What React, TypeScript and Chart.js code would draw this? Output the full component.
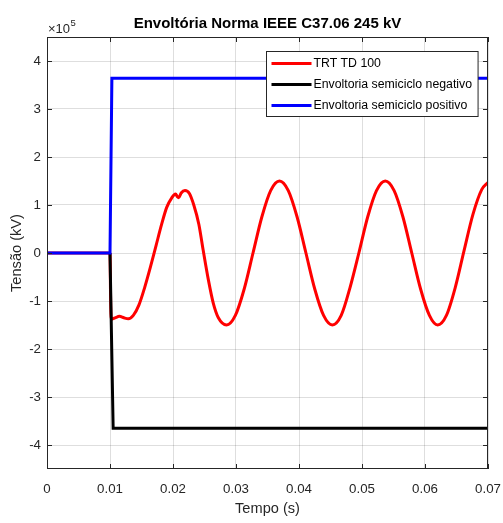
import React, { useEffect, useRef } from "react";
import { Chart, registerables } from "chart.js";

Chart.register(...registerables);

const SCALE = 1e5;

const TITLE = "Envoltória Norma IEEE C37.06 245 kV";
const X_LABEL = "Tempo (s)";
const Y_LABEL = "Tensão (kV)";
const LEGEND_LABELS = ["TRT TD 100", "Envoltoria semiciclo negativo", "Envoltoria semiciclo positivo"];

// Red: TRT TD 100 (values in units of 1e5)
const redT = [
  0, 0.01, 0.0101, 0.0102, 0.0108, 0.0115, 0.0122, 0.0129, 0.0137, 0.0146,
  0.0155, 0.0164, 0.0173, 0.0182, 0.019, 0.0198, 0.0204, 0.0207, 0.0209, 0.0213,
  0.0219, 0.0226, 0.0233, 0.0241, 0.0248, 0.0256, 0.0264, 0.0272, 0.0285, 0.0299,
  0.0313, 0.0327, 0.0341, 0.0355, 0.0369, 0.0383, 0.0397, 0.0411, 0.0425, 0.0439,
  0.0453, 0.0467, 0.0481, 0.0495, 0.0509, 0.0523, 0.0537, 0.0551, 0.0565, 0.0579,
  0.0593, 0.0607, 0.062, 0.0634, 0.0648, 0.0662, 0.0676, 0.069, 0.07,
];
const redV = [
  0, 0, -1.0, -1.38, -1.35, -1.32, -1.35, -1.37, -1.3, -1.08,
  -0.72, -0.3, 0.15, 0.6, 0.95, 1.15, 1.23, 1.17, 1.15, 1.25,
  1.3, 1.24, 1.0, 0.6, 0.05, -0.55, -1.05, -1.35, -1.5, -1.3,
  -0.75, 0.0, 0.75, 1.3, 1.5, 1.3, 0.75, 0.0, -0.75, -1.3,
  -1.5, -1.3, -0.72, 0.0, 0.75, 1.3, 1.5, 1.3, 0.75, 0.0,
  -0.75, -1.3, -1.5, -1.3, -0.72, 0.05, 0.8, 1.32, 1.47,
];

// Black: negative envelope
const negT = [0.01, 0.0105, 0.07];
const negV = [0, -3.65, -3.65];

// Blue: positive envelope
const posT = [0, 0.01, 0.0103, 0.07];
const posV = [0, 0, 3.64, 3.64];

const X_MIN = 0;
const X_MAX = 0.07;
const X_STEP = 0.01;
const Y_MIN = -4.5;
const Y_MAX = 4.5;
const Y_STEP = 1;

const FONT = '"Liberation Sans", Arial, Helvetica, sans-serif';

const toPts = (t: number[], v: number[]) => t.map((x, i) => ({ x, y: v[i] * SCALE }));

const overlay = {
  id: "overlay",
  afterDatasetsDraw(chart: any) {
    const { ctx, chartArea, scales } = chart;
    const { left, right, top, bottom } = chartArea;
    const xs = scales.x;
    const ys = scales.y;
    ctx.save();
    ctx.strokeStyle = "#262626";
    ctx.lineWidth = 1;
    // inner ticks
    ctx.beginPath();
    xs.ticks.forEach((t: any) => {
      const px = Math.round(xs.getPixelForValue(t.value)) + 0.5;
      ctx.moveTo(px, bottom);
      ctx.lineTo(px, bottom - 5);
      ctx.moveTo(px, top);
      ctx.lineTo(px, top + 5);
    });
    ys.ticks.forEach((t: any) => {
      const py = Math.round(ys.getPixelForValue(t.value)) + 0.5;
      ctx.moveTo(left, py);
      ctx.lineTo(left + 5, py);
      ctx.moveTo(right, py);
      ctx.lineTo(right - 5, py);
    });
    ctx.stroke();
    // box
    ctx.strokeRect(Math.round(left) + 0.5, Math.round(top) + 0.5, Math.round(right - left) - 1, Math.round(bottom - top) - 1);

    // title
    ctx.fillStyle = "#000";
    ctx.font = `bold 15px ${FONT}`;
    ctx.textAlign = "center";
    ctx.textBaseline = "middle";
    ctx.fillText(TITLE, (left + right) / 2, 24);

    // exponent
    ctx.fillStyle = "#262626";
    ctx.textAlign = "left";
    ctx.font = `13px ${FONT}`;
    ctx.fillText("×10", left + 1, 29);
    const w = ctx.measureText("×10").width;
    ctx.font = `9.5px ${FONT}`;
    ctx.fillText("5", left + 1 + w + 0.5, 23);

    // legend
    ctx.font = `12.3px ${FONT}`;
    const ds = chart.data.datasets;
    let maxW = 0;
    LEGEND_LABELS.forEach((l) => (maxW = Math.max(maxW, ctx.measureText(l).width)));
    const boxW = 47 + maxW + 6;
    const boxH = 65;
    const bx = Math.round(right - 10 - boxW) + 0.5;
    const by = Math.round(top + 14) + 0.5;
    ctx.fillStyle = "#fff";
    ctx.fillRect(bx, by, boxW, boxH);
    ctx.strokeStyle = "#262626";
    ctx.lineWidth = 1;
    ctx.strokeRect(bx, by, boxW, boxH);
    LEGEND_LABELS.forEach((l, i) => {
      const d = ds[i];
      const cy = by + 12 + i * 21;
      ctx.strokeStyle = d.borderColor;
      ctx.lineWidth = 3;
      ctx.beginPath();
      ctx.moveTo(bx + 5, cy);
      ctx.lineTo(bx + 45, cy);
      ctx.stroke();
      ctx.fillStyle = "#000";
      ctx.textAlign = "left";
      ctx.textBaseline = "middle";
      ctx.fillText(l, bx + 47, cy + 0.5);
    });
    ctx.restore();
  },
};

export default function App() {
  const ref = useRef<HTMLCanvasElement | null>(null);
  useEffect(() => {
    document.body.style.margin = "0";
    const chart = new Chart(ref.current as HTMLCanvasElement, {
      type: "line",
      data: {
        datasets: [
          {
            label: LEGEND_LABELS[0],
            data: toPts(redT, redV),
            borderColor: "#ff0000",
            borderWidth: 3,
            pointRadius: 0,
            tension: 0.4,
            cubicInterpolationMode: "monotone",
            fill: false,
            order: 2,
          },
          {
            label: LEGEND_LABELS[1],
            data: toPts(negT, negV),
            borderColor: "#000000",
            borderWidth: 3,
            pointRadius: 0,
            tension: 0,
            fill: false,
            order: 1,
          },
          {
            label: LEGEND_LABELS[2],
            data: toPts(posT, posV),
            borderColor: "#0000ff",
            borderWidth: 3,
            pointRadius: 0,
            tension: 0,
            fill: false,
            order: 0,
          },
        ],
      },
      options: {
        animation: false,
        responsive: true,
        maintainAspectRatio: false,
        layout: { padding: { top: 37, right: 15, left: 0, bottom: 0 } },
        plugins: {
          legend: { display: false },
          title: { display: false },
          tooltip: { enabled: false },
        },
        scales: {
          x: {
            type: "linear",
            min: X_MIN,
            max: X_MAX,
            afterFit: (s: any) => {
              s.height = 54;
              s.paddingLeft = 0;
              s.paddingRight = 0;
            },
            border: { display: false },
            grid: { color: "rgba(0,0,0,0.13)", drawTicks: false, lineWidth: 1 },
            ticks: {
              stepSize: X_STEP,
              autoSkip: false,
              maxRotation: 0,
              padding: 12,
              color: "#262626",
              font: { family: FONT, size: 13.3 },
              callback: (v: any) => String(Math.round(Number(v) * 100) / 100),
            },
            title: {
              display: true,
              text: X_LABEL,
              color: "#262626",
              font: { family: FONT, size: 14.6 },
              padding: { top: 0, bottom: 5 },
            },
          },
          y: {
            type: "linear",
            min: Y_MIN * SCALE,
            max: Y_MAX * SCALE,
            afterFit: (s: any) => {
              s.width = 47;
              s.paddingTop = 0;
              s.paddingBottom = 0;
            },
            afterBuildTicks: (s: any) => {
              const t = [];
              for (let v = -4; v <= 4; v += Y_STEP) t.push({ value: v * SCALE });
              s.ticks = t;
            },
            border: { display: false },
            grid: { color: "rgba(0,0,0,0.13)", drawTicks: false, lineWidth: 1 },
            ticks: {
              padding: 6,
              color: "#262626",
              font: { family: FONT, size: 13.3 },
              callback: (v: any) => String(Math.round(Number(v) / SCALE)),
            },
            title: {
              display: true,
              text: Y_LABEL,
              color: "#262626",
              font: { family: FONT, size: 14.6 },
              padding: { top: 8, bottom: 0 },
            },
          },
        },
      },
      plugins: [overlay],
    });
    return () => chart.destroy();
  }, []);
  return (
    <div style={{ position: "relative", width: 503, height: 523 }}>
      <canvas ref={ref} />
    </div>
  );
}
